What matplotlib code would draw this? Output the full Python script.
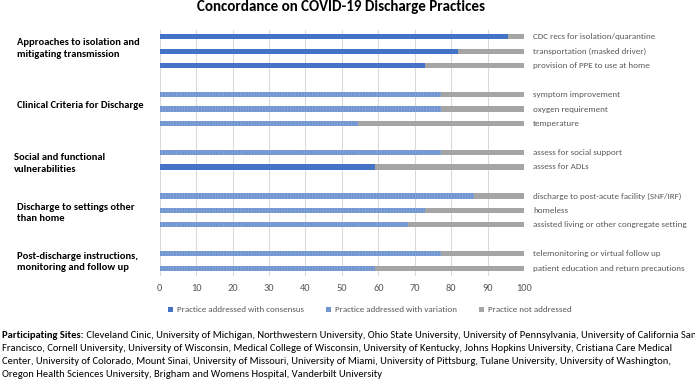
import matplotlib
matplotlib.use("Agg")
import matplotlib.pyplot as plt
from matplotlib import font_manager
from matplotlib.patches import Patch
from matplotlib.transforms import offset_copy

# ---------------- data ----------------
title = "Concordance on COVID-19 Discharge Practices"
groups = [
    "Approaches to isolation and\nmitigating transmission",
    "Clinical Criteria for Discharge",
    "Social and functional\nvulnerabilities",
    "Discharge to settings other\nthan home",
    "Post-discharge instructions,\nmonitoring and follow up",
]
practices = [
    "CDC recs for isolation/quarantine",
    "transportation (masked driver)",
    "provision of PPE to use at home",
    "symptom improvement",
    "oxygen requirement",
    "temperature",
    "assess for social support",
    "assess for ADLs",
    "discharge to post-acute facility (SNF/IRF)",
    "homeless",
    "assisted living or other congregate setting",
    "telemonitoring or virtual follow up",
    "patient education and return precautions",
]
group_of = [0, 0, 0, 1, 1, 1, 2, 2, 3, 3, 3, 4, 4]
consensus = [95.5, 81.8, 72.7, 0, 0, 0, 0, 59.1, 0, 0, 0, 0, 0]
variation = [0, 0, 0, 77.3, 77.3, 54.5, 77.3, 0, 86.4, 72.7, 68.2, 77.3, 59.1]
not_addressed = [4.5, 18.2, 27.3, 22.7, 22.7, 45.5, 22.7, 40.9, 13.6, 27.3, 31.8, 22.7, 40.9]
series_names = ["Practice addressed with consensus",
                "Practice addressed with variation",
                "Practice not addressed"]
x_ticks = [0, 10, 20, 30, 40, 50, 60, 70, 80, 90, 100]
foot_bold = "Participating Sites:"
foot_lines = [
    " Cleveland Cinic, University of Michigan, Northwestern University, Ohio State University, University of Pennsylvania, University of California San",
    "Francisco, Cornell University, University of Wisconsin, Medical College of Wisconsin, University of Kentucky, Johns Hopkins University, Cristiana Care Medical",
    "Center, University of Colorado, Mount Sinai, University of Missouri, University of Miami, University of Pittsburg, Tulane University, University of Washington,",
    "Oregon Health Sciences University, Brigham and Womens Hospital, Vanderbilt University",
]

# ---------------- style ----------------
available = {f.name for f in font_manager.fontManager.ttflist}
def pick(cands):
    for c in cands:
        if c in available:
            return c
    return "DejaVu Sans"
FONT = pick(["Carlito", "Lato", "Liberation Sans Narrow", "Open Sans", "Liberation Sans"])
plt.rcParams["font.family"] = [FONT, "DejaVu Sans"]
plt.rcParams["hatch.linewidth"] = 0.5

C_CONS = "#4472C4"
C_VAR = "#7095D0"
C_NOT = "#A5A5A5"
C_GRID = "#D9D9D9"
C_LAB = "#595959"

W, H = 695, 379
fig = plt.figure(figsize=(W / 100, H / 100), dpi=100)
renderer = fig.canvas.get_renderer()

def fx(px):
    return px / W

def fy(py):
    return 1 - py / H

def scale_for(text, width_px, **kw):
    t = fig.text(0, 0, text, fontsize=10, **kw)
    w = t.get_window_extent(renderer).width
    t.remove()
    return 10 * width_px / w

# ---------------- axes ----------------
ax = fig.add_axes([fx(159.7), fy(275.5), fx(524 - 159.7), (275.5 - 29.5) / H])

# positions: consecutive rows, one blank slot between groups
ypos = []
slot = 0
prev = group_of[0]
for g in group_of:
    if g != prev:
        slot += 1
        prev = g
    ypos.append(slot)
    slot += 1

bh = 0.36
ax.barh(ypos, consensus, height=bh, color=C_CONS, linewidth=0, zorder=3)
ax.barh(ypos, variation, left=consensus, height=bh, color=C_VAR,
        edgecolor="#8CAADB", hatch="||||||", linewidth=0, zorder=3)
left2 = [a + b for a, b in zip(consensus, variation)]
ax.barh(ypos, not_addressed, left=left2, height=bh, color=C_NOT, linewidth=0, zorder=3)

ax.set_xlim(0, 100)
ax.set_ylim(slot - 0.5, -0.5)
ax.set_xticks(x_ticks)
ax.set_yticks([])
for s in ax.spines.values():
    s.set_visible(False)
ax.grid(axis="x", color=C_GRID, linewidth=0.75, zorder=0)
ax.set_axisbelow(True)
ax.tick_params(axis="x", length=0, pad=6, labelsize=7.5, labelcolor=C_LAB)

# right labels
fs_right = scale_for(practices[10], 154)
for y, lab in zip(ypos, practices):
    ax.annotate(lab, xy=(1, y), xycoords=("axes fraction", "data"),
                xytext=(6.5, 0), textcoords="offset points",
                va="center", ha="left", fontsize=fs_right, color=C_LAB)

# group labels (small vertical nudges in pixels, as placed in the reference)
label_dy_px = [-2.6, -3.7, 3.5, 2.6, 0.9]
label_x_px = [17, 17, 14, 17, 17]
fs_group = scale_for(groups[1], 126, fontweight="bold")
for gi, gname in enumerate(groups):
    ys = [y for y, g in zip(ypos, group_of) if g == gi]
    yc = sum(ys) / len(ys)
    ax.annotate(gname, xy=(fx(label_x_px[gi]), yc), xycoords=(fig.transFigure, "data"),
                xytext=(0, -label_dy_px[gi] * 0.72), textcoords="offset points",
                va="center", ha="left", fontsize=fs_group,
                fontweight="bold", color="#000000", linespacing=1.4)

# title
fs_title = scale_for(title, 287, fontweight="bold")
fig.text(fx(341), fy(7.5), title, ha="center", va="center",
         fontsize=fs_title, fontweight="bold", color="#000000")

# legend
fs_leg = scale_for(series_names[0], 127)
handles = [Patch(facecolor=C_CONS), Patch(facecolor=C_VAR), Patch(facecolor=C_NOT)]
fs_leg_px = fs_leg * 100 / 72
fig.legend(handles, series_names, loc="center", bbox_to_anchor=(fx(370), fy(310)),
           ncol=3, frameon=False, fontsize=fs_leg, labelcolor=C_LAB,
           handlelength=0.55, handleheight=0.55, handletextpad=0.45,
           columnspacing=22 / fs_leg_px, borderpad=0, borderaxespad=0)

# footnote
fs_foot = scale_for(foot_lines[1], 669)
line_y = [334.3, 347.7, 360.7, 373.3]
tb = fig.text(fx(2), fy(line_y[0]), foot_bold, ha="left", va="center_baseline",
              fontsize=fs_foot, fontweight="bold", color="#000000")
ax.annotate(foot_lines[0], xy=(1, 0), xycoords=tb, xytext=(0, 0),
            textcoords="offset points", ha="left", va="bottom",
            fontsize=fs_foot, color="#000000", annotation_clip=False)
for ly, line in zip(line_y[1:], foot_lines[1:]):
    fig.text(fx(2), fy(ly), line, ha="left", va="center_baseline",
             fontsize=fs_foot, color="#000000")

fig.savefig("out.png", dpi=100)
